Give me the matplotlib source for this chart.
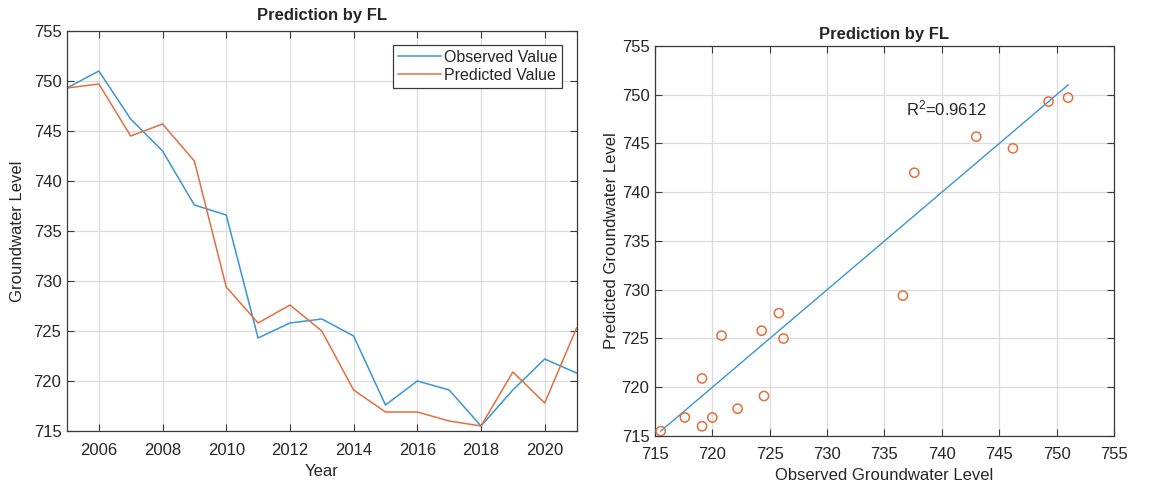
import numpy as np
import matplotlib
matplotlib.use("Agg")
import matplotlib.pyplot as plt

plt.rcParams['font.family'] = ['Liberation Sans', 'DejaVu Sans']
plt.rcParams['mathtext.fontset'] = 'custom'
plt.rcParams['mathtext.rm'] = 'Liberation Sans'
plt.rcParams['mathtext.it'] = 'Liberation Sans'

# Annual groundwater levels
years = [2005, 2006, 2007, 2008, 2009, 2010, 2011, 2012, 2013,
         2014, 2015, 2016, 2017, 2018, 2019, 2020, 2021]
observed = [749.3, 751.0, 746.2, 743.0, 737.6, 736.6, 724.3, 725.8, 726.2,
            724.5, 717.6, 720.0, 719.1, 715.5, 719.1, 722.2, 720.8]
predicted = [749.3, 749.7, 744.5, 745.7, 742.0, 729.4, 725.8, 727.6, 725.0,
             719.1, 716.9, 716.9, 716.0, 715.5, 720.9, 717.8, 725.3]
r2_label = r'R$^{2}$=0.9612'

year_ticks = [2006, 2008, 2010, 2012, 2014, 2016, 2018, 2020]
level_ticks = [715, 720, 725, 730, 735, 740, 745, 750, 755]

BLUE = '#3a95d3'
ORANGE = '#e2703f'
TXT = '#262626'
FS = 12

fig = plt.figure(figsize=(11.69, 4.86), dpi=100)
ax1 = fig.add_axes([0.0573, 0.1132, 0.4359, 0.823])
ax2 = fig.add_axes([0.5603, 0.1029, 0.3926, 0.8025])


def style(ax, xpad):
    ax.grid(True, color='#dcdcdc', linewidth=0.9)
    ax.set_axisbelow(True)
    ax.tick_params(direction='in', top=True, right=True, length=5,
                   width=0.8, colors='#3a3a3a', labelcolor=TXT,
                   labelsize=FS)
    ax.tick_params(axis='x', pad=xpad)
    ax.tick_params(axis='y', pad=4)
    for s in ax.spines.values():
        s.set_color('#3a3a3a')
        s.set_linewidth(0.9)


# Time series
ax1.plot(years, observed, color=BLUE, lw=1.1, label='Observed Value')
ax1.plot(years, predicted, color=ORANGE, lw=1.1, label='Predicted Value')
ax1.set_xlim(2005, 2021)
ax1.set_ylim(715, 755)
ax1.set_xticks(year_ticks)
ax1.set_yticks(level_ticks)
ax1.set_xlabel('Year', fontsize=FS, color=TXT, labelpad=4)
ax1.set_ylabel('Groundwater Level', fontsize=FS, color=TXT, labelpad=6)
ax1.set_title('Prediction by FL', fontsize=FS, fontweight='bold',
              color=TXT, pad=8)
style(ax1, 9)
leg = ax1.legend(loc='upper right', bbox_to_anchor=(0.9715, 0.965),
                 borderaxespad=0, fontsize=FS - 0.5, handlelength=2.7,
                 handletextpad=0.15, fancybox=False, framealpha=1,
                 edgecolor='#3a3a3a', borderpad=0.3, labelspacing=0.2)
leg.get_frame().set_linewidth(0.9)
for t in leg.get_texts():
    t.set_color(TXT)

# Observed vs predicted
ax2.scatter(observed, predicted, s=44, facecolors='none',
            edgecolors=ORANGE, linewidths=1.1, zorder=3)
lo, hi = min(observed), max(observed)
ax2.plot([lo, hi], [lo, hi], color=BLUE, lw=1.0, zorder=2)
ax2.text(736.9, 748.6, r2_label, fontsize=FS, color=TXT,
         ha='left', va='center')
ax2.set_xlim(715, 755)
ax2.set_ylim(715, 755)
ax2.set_xticks(level_ticks)
ax2.set_yticks(level_ticks)
ax2.set_xlabel('Observed Groundwater Level', fontsize=FS, color=TXT,
               labelpad=4)
ax2.set_ylabel('Predicted Groundwater Level', fontsize=FS, color=TXT,
               labelpad=2)
ax2.set_title('Prediction by FL', fontsize=FS, fontweight='bold',
              color=TXT, pad=5)
style(ax2, 8)

fig.savefig('out.png', dpi=100, facecolor='white')
